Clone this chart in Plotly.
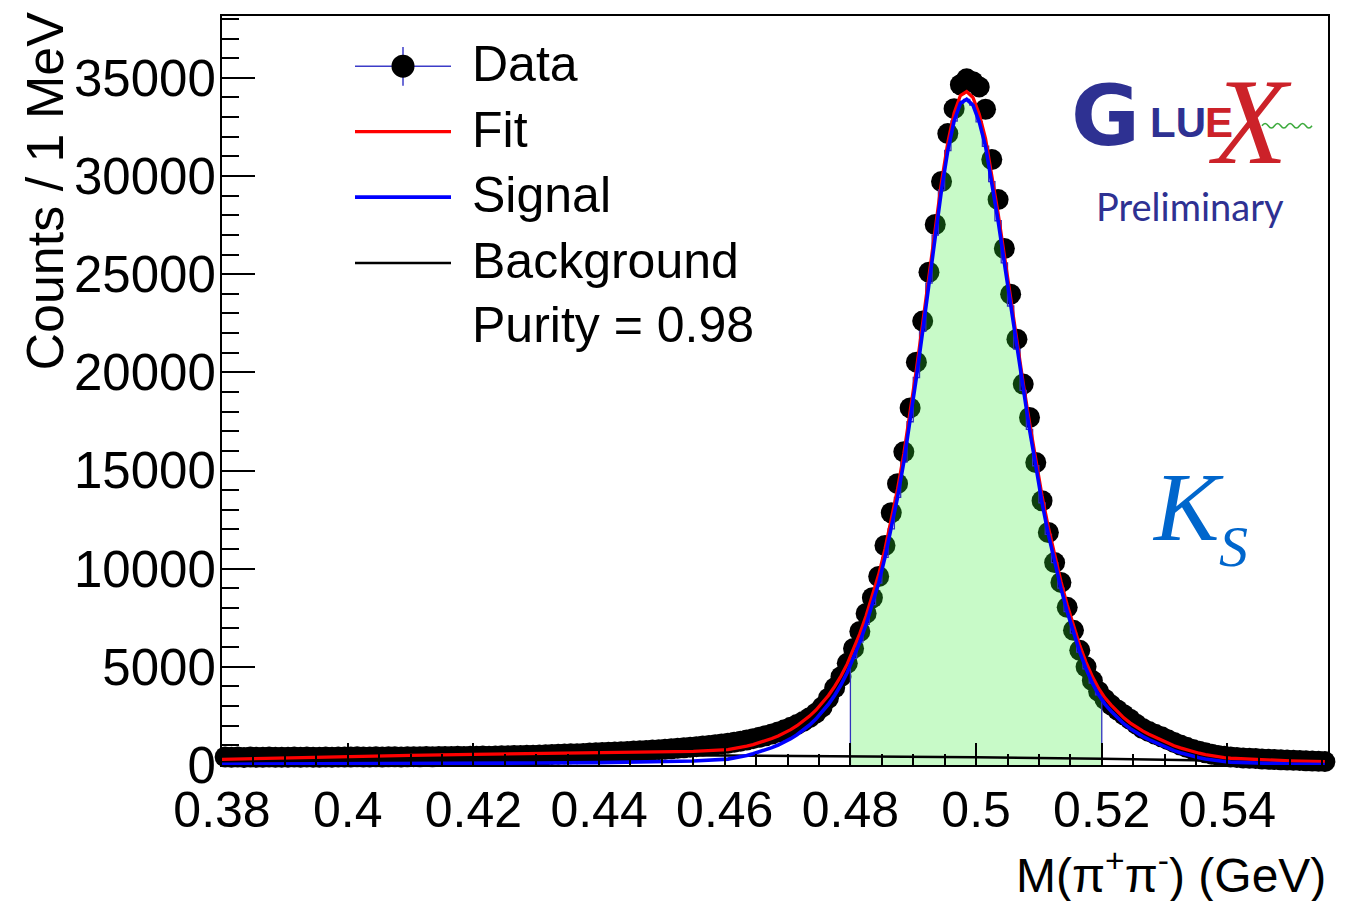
import numpy as np
import plotly.graph_objects as go

# ---------------- data ----------------
bin_lo = 0.380          # GeV
bin_width = 0.001       # 1 MeV bins
n_bins = 176

data_counts = [
    410, 395, 402, 388, 405, 398, 392, 407, 396, 401,
    399, 404, 393, 410, 401, 397, 406, 400, 412, 403,
    408, 415, 402, 411, 418, 409, 414, 421, 412, 419,
    425, 418, 429, 422, 431, 436, 428, 440, 434, 445,
    450, 458, 447, 462, 470, 466, 479, 485, 492, 501,
    510, 522, 531, 545, 556, 568, 579, 592, 605, 618,
    632, 645, 660, 676, 690, 707, 725, 742, 762, 783,
    805, 828, 852, 878, 905, 934, 965, 998, 1032, 1070,
    1110, 1160, 1215, 1275, 1340, 1410, 1490, 1580, 1680, 1790,
    1920, 2060, 2220, 2410, 2640, 2950, 3400, 3930, 4500, 5180,
    5940, 6800, 7720, 8520, 9600, 11180, 12850, 14330, 15950, 18190,
    20520, 22610, 25100, 27530, 29720, 32160, 33430, 34650, 34950, 34800,
    34540, 33400, 30840, 28800, 26310, 23980, 21690, 19400, 17700, 15410,
    13460, 11840, 10310, 9300, 8030, 6860, 5840, 5000, 4300, 3750,
    3350, 3050, 2800, 2560, 2330, 2080, 1860, 1700, 1560, 1440,
    1290, 1150, 1020, 900, 790, 700, 620, 550, 490, 445,
    410, 385, 360, 340, 325, 305, 290, 275, 262, 252,
    240, 225, 212, 198, 185, 172,
]

# fit-function sample points: coarse tails + every bin centre 0.4605..0.5405
curve_x_left = [0.380, 0.390, 0.400, 0.410, 0.420, 0.430, 0.440, 0.445, 0.450, 0.455]
curve_x_right = [0.545, 0.550, 0.5555]

fit_left = [290, 365, 435, 490, 540, 585, 620, 635, 655, 695]
fit_mid = [
    780, 830, 890, 960, 1040, 1130, 1230, 1350, 1480, 1630,
    1800, 2000, 2230, 2490, 2790, 3140, 3540, 4000, 4530, 5150,
    5870, 6690, 7600, 8600, 9700, 11000, 12450, 14050, 15850, 17900,
    20150, 22500, 24950, 27400, 29700, 31700, 33200, 34100, 34300, 34000,
    33150, 31900, 30100, 28100, 25950, 23750, 21550, 19450, 17450, 15600,
    13700, 12100, 10650, 9350, 8150, 7050, 6080, 5230, 4500, 3900,
    3420, 3050, 2700, 2400, 2150, 1930, 1740, 1570, 1420, 1270,
    1100, 980, 870, 770, 680, 600, 530, 470, 420, 380, 345,
]
fit_right = [270, 210, 170]

signal_left = [40, 45, 55, 65, 80, 100, 120, 135, 155, 200]
signal_mid = [
    300, 353, 415, 487, 569, 661, 763, 885, 1017, 1169,
    1341, 1543, 1775, 2037, 2339, 2691, 3093, 3555, 4087, 4709,
    5431, 6254, 7166, 8169, 9271, 10574, 12026, 13629, 15431, 17484,
    19736, 22089, 24541, 26994, 29296, 31299, 32801, 33704, 33906, 33609,
    32762, 31515, 29719, 27722, 25576, 23379, 21183, 19086, 17090, 15243,
    13347, 11750, 10304, 9007, 7811, 6714, 5748, 4901, 4175, 3578,
    3103, 2739, 2395, 2101, 1857, 1643, 1459, 1295, 1151, 1007,
    843, 729, 625, 531, 447, 373, 309, 255, 211, 177, 148,
]
signal_right = [89, 48, 29]

background_x = [0.380, 0.400, 0.420, 0.440, 0.460, 0.480, 0.500, 0.520, 0.540, 0.556]
background_y = [250, 380, 460, 500, 480, 440, 390, 320, 200, 140]

signal_window = (0.48, 0.52)
purity_text = "Purity = 0.98"

x_tick_vals = [0.38, 0.40, 0.42, 0.44, 0.46, 0.48, 0.50, 0.52, 0.54]
x_tick_text = ["0.38", "0.4", "0.42", "0.44", "0.46", "0.48", "0.5", "0.52", "0.54"]
y_tick_vals = [0, 5000, 10000, 15000, 20000, 25000, 30000, 35000]
y_tick_text = ["0", "5000", "10000", "15000", "20000", "25000", "30000", "35000"]

# ---------------- derived geometry ----------------
bin_centers = bin_lo + bin_width * (np.arange(n_bins) + 0.5)
bin_edges = bin_lo + bin_width * np.arange(n_bins + 1)
mid_x = bin_centers[(bin_centers > 0.46) & (bin_centers < 0.541)]
curve_x = list(curve_x_left) + list(mid_x) + list(curve_x_right)
fit_y = list(fit_left) + list(fit_mid) + list(fit_right)
signal_y = list(signal_left) + list(signal_mid) + list(signal_right)

win = (mid_x > signal_window[0]) & (mid_x < signal_window[1])
sig_win = list(np.array(signal_mid)[win])
edges_win = bin_edges[(bin_edges > signal_window[0] - 1e-9) & (bin_edges < signal_window[1] + 1e-9)]
step_x = [edges_win[0]] + list(edges_win) + [edges_win[-1]]
step_y = [0] + sig_win + [sig_win[-1]] + [0]

# page has an 8px body margin; plot-area frame in page pixels
BODY = 8
FIG_W, FIG_H = 1353 - BODY, 909 - 2 * BODY
PL, PR, PT, PB = 222, 1328, 14, 765
def px(v):
    return (v - PL) / (PR - PL)
def py(v):
    return (PB - v) / (PB - PT)

FONT = "Liberation Sans, Arial, Helvetica, sans-serif"
SERIF = "Liberation Serif, Times New Roman, serif"

fig = go.Figure()

fig.add_trace(go.Scatter(
    x=bin_centers, y=data_counts, mode="markers",
    marker=dict(symbol="circle", size=21, color="black", line=dict(width=0)),
    cliponaxis=False, name="Data"))

fig.add_trace(go.Scatter(
    x=step_x, y=step_y, mode="lines", line=dict(shape="hv", color="rgb(50,50,190)", width=1.3),
    fill="toself", fillcolor="rgba(52,237,52,0.27)", name="Signal window"))

fig.add_trace(go.Scatter(
    x=background_x, y=background_y, mode="lines",
    line=dict(color="black", width=2.5), name="Background"))

fig.add_trace(go.Scatter(
    x=curve_x, y=fit_y, mode="lines",
    line=dict(color="red", width=3.3), name="Fit"))

fig.add_trace(go.Scatter(
    x=curve_x, y=signal_y, mode="lines",
    line=dict(color="blue", width=3.6), name="Signal"))

# ---------------- manual ROOT-style legend ----------------
shapes = []
annotations = []
leg_x0, leg_x1, leg_xc = 355, 451, 403
leg_rows = [("Data", 64.3), ("Fit", 130.0), ("Signal", 195.7), ("Background", 261.7)]
leg_styles = {"Data": ("rgb(60,60,200)", 1.5), "Fit": ("red", 3.3),
              "Signal": ("blue", 3.8), "Background": ("black", 2.6)}
for label, yrow in leg_rows:
    col, w = leg_styles[label]
    shapes.append(dict(type="line", xref="paper", yref="paper",
                       x0=px(leg_x0), x1=px(leg_x1), y0=py(yrow), y1=py(yrow),
                       line=dict(color=col, width=w)))
    annotations.append(dict(text=label, xref="paper", yref="paper", x=px(470), y=py(yrow - 2),
                            xanchor="left", yanchor="middle", showarrow=False,
                            font=dict(family=FONT, size=50, color="black")))
shapes.append(dict(type="line", xref="paper", yref="paper",
                   x0=px(leg_xc), x1=px(leg_xc), y0=py(45), y1=py(84),
                   line=dict(color="rgb(60,60,200)", width=1.5)))
shapes.append(dict(type="circle", xref="paper", yref="paper",
                   x0=px(leg_xc - 11.5), x1=px(leg_xc + 11.5), y0=py(64.3 + 11.5), y1=py(64.3 - 11.5),
                   fillcolor="black", line=dict(width=0)))
annotations.append(dict(text=purity_text, xref="paper", yref="paper", x=px(470), y=py(324),
                        xanchor="left", yanchor="middle", showarrow=False,
                        font=dict(family=FONT, size=50, color="black")))

# ---------------- axis titles ----------------
annotations.append(dict(text="Counts / 1 MeV", xref="paper", yref="paper", x=px(45), y=py(190),
                        xanchor="center", yanchor="middle", textangle=-90, showarrow=False,
                        font=dict(family=FONT, size=52, color="black")))
annotations.append(dict(text="M(\u03c0<sup>+</sup>\u03c0<sup>-</sup>) (GeV)", xref="paper", yref="paper",
                        x=px(1328), y=py(872), xanchor="right", yanchor="middle", showarrow=False,
                        font=dict(family=FONT, size=48, color="black")))

# ---------------- GlueX logo + K_S label ----------------
BLUE_LOGO = "#2e3192"
RED_LOGO = "#cc2229"
annotations += [
    dict(text="<b>G</b>", xref="paper", yref="paper", x=px(1105), y=py(114), xanchor="center", yanchor="middle",
         showarrow=False, font=dict(family="DejaVu Sans, Liberation Sans", size=84, color=BLUE_LOGO)),
    dict(text="<b>LU</b>", xref="paper", yref="paper", x=px(1178), y=py(121), xanchor="center", yanchor="middle",
         showarrow=False, font=dict(family=FONT, size=42, color=BLUE_LOGO)),
    dict(text="<b>E</b>", xref="paper", yref="paper", x=px(1219), y=py(121), xanchor="center", yanchor="middle",
         showarrow=False, font=dict(family=FONT, size=42, color=RED_LOGO)),
    dict(text="<i>X</i>", xref="paper", yref="paper", x=px(1250), y=py(120), xanchor="center", yanchor="middle",
         showarrow=False, font=dict(family=SERIF, size=122, color=RED_LOGO)),
    dict(text="Preliminary", xref="paper", yref="paper", x=px(1190), y=py(205), xanchor="center", yanchor="middle",
         showarrow=False, font=dict(family="Lato, Open Sans, sans-serif", size=38, color=BLUE_LOGO)),
    dict(text="<i>K</i>", xref="paper", yref="paper", x=px(1188), y=py(506), xanchor="center", yanchor="middle",
         showarrow=False, font=dict(family=SERIF, size=98, color="rgb(0,102,204)")),
    dict(text="<i>S</i>", xref="paper", yref="paper", x=px(1233), y=py(546), xanchor="center", yanchor="middle",
         showarrow=False, font=dict(family=SERIF, size=58, color="rgb(0,102,204)")),
]
# green wavy line of the logo
wx0, wx1, wy, amp, nhalf = 1262, 1312, 124, 4.5, 8
step = (wx1 - wx0) / nhalf
path = f"M {px(wx0)},{py(wy)}"
for i in range(nhalf):
    cx = wx0 + step * (i + 0.5)
    ex = wx0 + step * (i + 1)
    cy = wy - amp if i % 2 == 0 else wy + amp
    path += f" Q {px(cx)},{py(cy)} {px(ex)},{py(wy)}"
shapes.append(dict(type="path", xref="paper", yref="paper", path=path,
                   line=dict(color="rgb(60,170,60)", width=1.5)))

fig.update_layout(
    width=FIG_W, height=FIG_H,
    margin=dict(l=PL - BODY, r=FIG_W - (PR - BODY), t=PT - BODY, b=FIG_H - (PB - BODY)),
    paper_bgcolor="white", plot_bgcolor="white",
    showlegend=False,
    font=dict(family=FONT, color="black"),
    shapes=shapes, annotations=annotations,
    xaxis=dict(range=[0.38, 0.556], tickmode="array", tickvals=x_tick_vals, ticktext=x_tick_text,
               ticks="inside", ticklen=22, tickwidth=2, tickcolor="black",
               minor=dict(ticks="inside", ticklen=11, tickwidth=1.5, tickcolor="black",
                          tickmode="linear", tick0=0.38, dtick=0.005),
               showline=True, mirror=True, linecolor="black", linewidth=2,
               showgrid=False, zeroline=False, tickfont=dict(family=FONT, size=50, color="black")),
    yaxis=dict(range=[0, 38150], tickmode="array", tickvals=y_tick_vals, ticktext=y_tick_text,
               ticks="inside", ticklen=33, tickwidth=2, tickcolor="black",
               minor=dict(ticks="inside", ticklen=17, tickwidth=1.5, tickcolor="black",
                          tickmode="linear", tick0=0, dtick=1000),
               ticklabelstandoff=-6,
               showline=True, mirror=True, linecolor="black", linewidth=2,
               showgrid=False, zeroline=False, tickfont=dict(family=FONT, size=51, color="black")),
)

fig.write_html("out.html")
